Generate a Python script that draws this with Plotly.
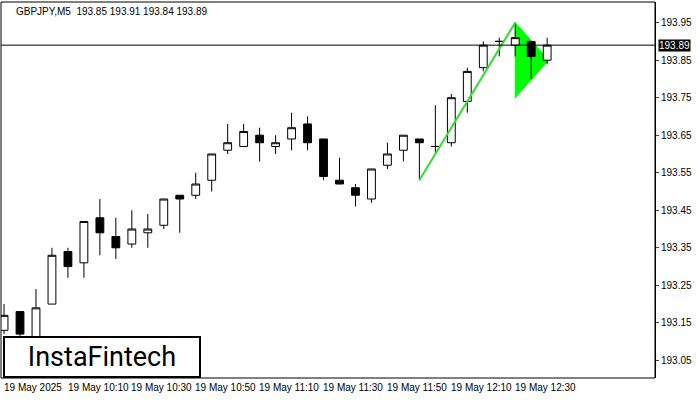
import plotly.graph_objects as go

# GBPJPY M5, 19 May 2025 09:50 .. 12:40
opens = [193.13, 193.18, 193.11, 193.20, 193.34, 193.31, 193.43, 193.38, 193.36, 193.39,
         193.41, 193.49, 193.49, 193.53, 193.61, 193.62, 193.65, 193.62, 193.64, 193.68,
         193.64, 193.53, 193.51, 193.48, 193.57, 193.61, 193.64, 193.62, 193.63, 193.74,
         193.83, 193.90, 193.89, 193.90, 193.85]
highs = [193.20, 193.18, 193.24, 193.35, 193.35, 193.42, 193.48, 193.43, 193.45, 193.44,
         193.48, 193.49, 193.55, 193.60, 193.68, 193.68, 193.67, 193.65, 193.71, 193.70,
         193.64, 193.59, 193.52, 193.56, 193.63, 193.65, 193.64, 193.73, 193.76, 193.83,
         193.90, 193.91, 193.95, 193.90, 193.91]
lows = [193.12, 193.11, 193.11, 193.20, 193.27, 193.27, 193.33, 193.32, 193.35, 193.35,
        193.40, 193.39, 193.48, 193.50, 193.60, 193.62, 193.58, 193.60, 193.61, 193.61,
        193.53, 193.52, 193.46, 193.47, 193.56, 193.58, 193.53, 193.60, 193.62, 193.71,
        193.82, 193.86, 193.86, 193.80, 193.84]
closes = [193.17, 193.12, 193.19, 193.33, 193.30, 193.42, 193.39, 193.35, 193.40, 193.40,
          193.48, 193.48, 193.52, 193.60, 193.63, 193.66, 193.63, 193.63, 193.67, 193.63,
          193.54, 193.52, 193.49, 193.56, 193.60, 193.65, 193.63, 193.62, 193.75, 193.82,
          193.89, 193.90, 193.91, 193.86, 193.89]

x_labels = ["19 May 2025", "19 May 10:10", "19 May 10:30", "19 May 10:50", "19 May 11:10",
            "19 May 11:30", "19 May 11:50", "19 May 12:10", "19 May 12:30"]
y_ticks = [193.05, 193.15, 193.25, 193.35, 193.45, 193.55, 193.65, 193.75, 193.85, 193.95]
last_price = 193.89

# pattern: flagpole and flag
pole_x = [26, 32]
pole_y = [193.53, 193.95]
flag_x = [32, 32, 34.1]
flag_y = [193.95, 193.75, 193.85]

idx = list(range(len(opens)))
fig = go.Figure()
# flag goes below the candles
flag_path = "M " + " L ".join(f"{x},{y}" for x, y in zip(flag_x, flag_y)) + " Z"
fig.add_shape(type="path", path=flag_path, xref="x", yref="y", layer="below",
              fillcolor="#00ff00", line=dict(color="#00ff00", width=1))
fig.add_trace(go.Candlestick(
    x=idx, open=opens, high=highs, low=lows, close=closes,
    increasing=dict(fillcolor="white", line=dict(color="black", width=1)),
    decreasing=dict(fillcolor="black", line=dict(color="black", width=1)),
    whiskerwidth=0,
))
fig.add_trace(go.Scatter(x=pole_x, y=pole_y, mode="lines",
                         line=dict(color="#33dd33", width=2), hoverinfo="skip"))

fig.add_hline(y=last_price, line=dict(color="black", width=1))
fig.add_shape(type="rect", xref="paper", yref="paper", x0=0, x1=1, y0=0, y1=1,
              line=dict(color="black", width=1))

for i, lab in enumerate(x_labels):
    fig.add_annotation(x=i * 4 - 0.15, y=0, xref="x", yref="paper", text=lab,
                       showarrow=False, xanchor="left", yanchor="top", yshift=-2,
                       font=dict(size=10, color="black"))

fig.add_annotation(x=1, y=last_price, xref="paper", yref="y", text=f"{last_price:.2f}",
                   showarrow=False, xanchor="left", xshift=3, bgcolor="black",
                   borderpad=0, font=dict(size=10, color="white"))
fig.add_annotation(x=0.02, y=0.995, xref="paper", yref="paper",
                   text="GBPJPY,M5  193.85 193.91 193.84 193.89", showarrow=False,
                   xanchor="left", yanchor="top", font=dict(size=10, color="black"))
fig.add_annotation(x=0.003, y=0.0, xref="paper", yref="paper", text="InstaFintech",
                   showarrow=False, xanchor="left", yanchor="bottom",
                   bgcolor="white", bordercolor="black", borderwidth=2, borderpad=3,
                   font=dict(size=27, color="black", family="Roboto"), width=188)

fig.update_layout(
    width=700, height=400,
    margin=dict(l=1, r=45, t=2, b=22),
    plot_bgcolor="white", paper_bgcolor="white",
    showlegend=False,
    font=dict(family="Liberation Sans", size=10, color="black"),
)
fig.update_xaxes(range=[-0.19, 40.75], showticklabels=False, showgrid=False,
                 rangeslider_visible=False, showline=False, zeroline=False,
                 automargin=False)
fig.update_yaxes(range=[193.003, 194.005], side="right", tickvals=y_ticks,
                 tickformat=".2f", showgrid=False, showline=True, linecolor="black",
                 ticks="outside", ticklen=3, zeroline=False, automargin=False)

fig.write_html("out.html", config={"displayModeBar": False},
               post_script="document.body.style.margin='0';")
